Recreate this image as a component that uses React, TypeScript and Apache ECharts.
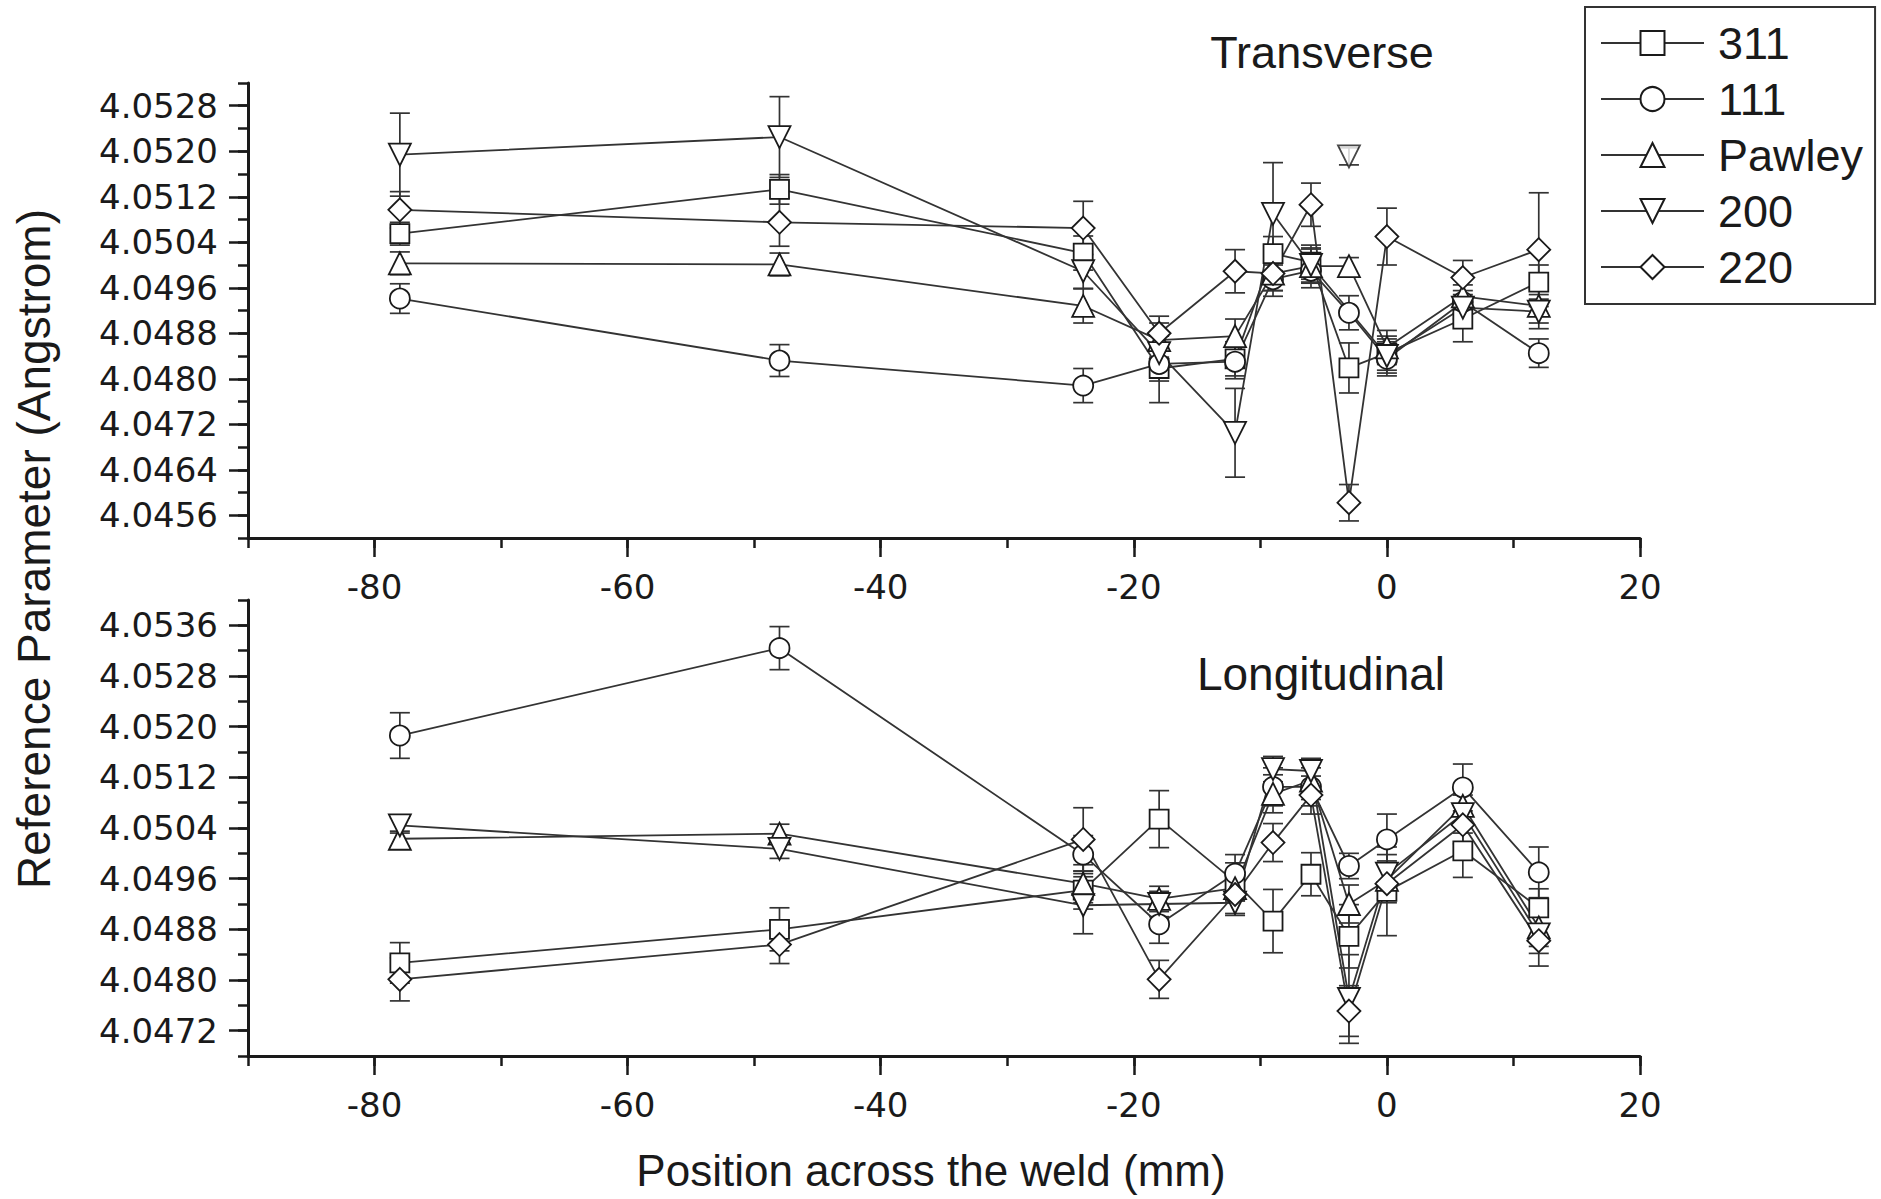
import React, { useEffect, useRef } from "react";
import * as echarts from "echarts";

// Positions across the weld (mm)
const positions = [-78, -48, -24, -18, -12, -9, -6, -3, 0, 6, 12];
const seriesNames = ["311", "111", "Pawley", "200", "220"];

// Transverse panel values (Angstrom)
const trans311 = [4.05055, 4.05133, 4.05021, 4.04818, 4.04835, 4.0502, 4.05005, 4.04819, 4.04845, 4.04905, 4.0497];
const trans111 = [4.04941, 4.04832, 4.04788, 4.04826, 4.0483, 4.04975, 4.0499, 4.04916, 4.04835, 4.04935, 4.04845];
const transPawley = [4.05003, 4.05001, 4.04928, 4.04868, 4.04875, 4.04985, 4.04998, 4.04998, 4.04855, 4.04945, 4.04928];
const trans200 = [4.05194, 4.05225, 4.04989, 4.04845, 4.04705, 4.0509, 4.05, null, 4.0484, 4.04925, 4.04918];
const trans220 = [4.05097, 4.05075, 4.05065, 4.0488, 4.04989, 4.04985, 4.05106, 4.04582, 4.0505, 4.04978, 4.05027];
// isolated 200 point (not joined by the line)
const trans200LoneX = [-3];
const trans200LoneY = [4.05191];
const trans200LoneErr = [0.00015];

// Transverse error bars
const transErr311 = [0.0002, 0.00026, 0.0003, 0.0006, 0.0003, 0.0003, 0.0003, 0.00044, 0.0003, 0.0004, 0.0003];
const transErr111 = [0.00026, 0.00028, 0.0003, 0.0003, 0.0003, 0.0003, 0.0003, 0.0003, 0.0003, 0.0003, 0.00025];
const transErrPawley = [0.0002, 0.0002, 0.0003, 0.0003, 0.0003, 0.0003, 0.0003, 0.00015, 0.0003, 0.0003, 0.0003];
const transErr200 = [0.00073, 0.00071, 0.0003, 0.0003, 0.00078, 0.0009, 0.0003, null, 0.0003, 0.0003, 0.0003];
const transErr220 = [0.00032, 0.00042, 0.00047, 0.0003, 0.00038, 0.0003, 0.00038, 0.00032, 0.0005, 0.0003, 0.001];

// Longitudinal panel values (Angstrom)
const long311 = [4.04827, 4.0488, 4.04942, 4.05054, 4.04955, 4.04893, 4.04967, 4.04869, 4.0494, 4.05004, 4.04914];
const long111 = [4.05186, 4.05324, 4.04998, 4.04888, 4.04968, 4.05105, 4.05105, 4.0498, 4.05022, 4.05104, 4.0497];
const longPawley = [4.05023, 4.05031, 4.04952, 4.04928, 4.04945, 4.05094, 4.05115, 4.0492, 4.04958, 4.05075, 4.04883];
const long200 = [4.05044, 4.05007, 4.04918, 4.0492, 4.04922, 4.05133, 4.0513, 4.0477, 4.04968, 4.05062, 4.04872];
const long220 = [4.04801, 4.04856, 4.05022, 4.04801, 4.04935, 4.05017, 4.05092, 4.04751, 4.04952, 4.05045, 4.04862];

// Longitudinal error bars
const longErr311 = [0.00032, 0.00034, 0.0003, 0.00045, 0.0003, 0.0005, 0.00034, 0.0005, 0.0007, 0.00042, 0.0003];
const longErr111 = [0.00036, 0.00034, 0.0003, 0.0003, 0.0003, 0.0003, 0.0003, 0.0002, 0.0004, 0.00037, 0.0004];
const longErrPawley = [0.00012, 0.00015, 0.0003, 0.0002, 0.0002, 0.0003, 0.0003, 0.0003, 0.0003, 0.0003, 0.0003];
const longErr200 = [0.00012, 0.00015, 0.00045, 0.0002, 0.0002, 0.0002, 0.0002, 0.0007, 0.0003, 0.0003, 0.0003];
const longErr220 = [0.00034, 0.0003, 0.0005, 0.0003, 0.0003, 0.0003, 0.0003, 0.0004, 0.0003, 0.0003, 0.0004];

// Axis ticks
const xMajorTicks = [-80, -60, -40, -20, 0, 20];
const transYTicks = [4.0456, 4.0464, 4.0472, 4.048, 4.0488, 4.0496, 4.0504, 4.0512, 4.052, 4.0528];
const longYTicks = [4.0472, 4.048, 4.0488, 4.0496, 4.0504, 4.0512, 4.052, 4.0528, 4.0536];

const transValues = [trans311, trans111, transPawley, trans200, trans220];
const transErrors = [transErr311, transErr111, transErrPawley, transErr200, transErr220];
const longValues = [long311, long111, longPawley, long200, long220];
const longErrors = [longErr311, longErr111, longErrPawley, longErr200, longErr220];

const symbolTypes = ["rect", "circle", "triangle", "triangle", "diamond"];
const symbolRotations = [0, 0, 0, 180, 0];
const symbolSizes = [19, 20, 22, 22, 23];

const INK = "#1a1a1a";
const LINE = "#333333";
const TICK_FONT = "DejaVu Sans";
const TEXT_FONT = "Liberation Sans, Arial, sans-serif";

function errorRender(params: any, api: any) {
  const x = api.value(0);
  const y = api.value(1);
  const e = api.value(2);
  const top = api.coord([x, y + e]);
  const bot = api.coord([x, y - e]);
  const hw = 10;
  const style = { stroke: LINE, lineWidth: 1.7, fill: null };
  return {
    type: "group",
    children: [
      { type: "line", shape: { x1: top[0], y1: top[1], x2: bot[0], y2: bot[1] }, style },
      { type: "line", shape: { x1: top[0] - hw, y1: top[1], x2: top[0] + hw, y2: top[1] }, style },
      { type: "line", shape: { x1: bot[0] - hw, y1: bot[1], x2: bot[0] + hw, y2: bot[1] }, style },
    ],
  };
}

function makeXAxes(grid: number) {
  return [
    {
      gridIndex: grid,
      type: "value",
      position: "bottom",
      min: -90,
      max: 20,
      interval: 10,
      axisLine: { show: true, onZero: false, lineStyle: { color: INK, width: 3 } },
      axisTick: { show: true, length: 19, customValues: xMajorTicks, lineStyle: { color: INK, width: 2.5 } },
      axisLabel: {
        customValues: xMajorTicks,
        margin: 32,
        fontSize: 34,
        fontFamily: TICK_FONT,
        color: INK,
      },
      splitLine: { show: false },
    },
    {
      gridIndex: grid,
      type: "value",
      position: "bottom",
      min: -90,
      max: 20,
      interval: 10,
      axisLine: { show: false, onZero: false },
      axisTick: { show: true, length: 10, lineStyle: { color: INK, width: 2.5 } },
      axisLabel: { show: false },
      splitLine: { show: false },
    },
  ];
}

function makeYAxes(grid: number, min: number, max: number, ticks: number[]) {
  return [
    {
      gridIndex: grid,
      type: "value",
      position: "left",
      min,
      max,
      interval: 0.0004,
      axisLine: { show: true, onZero: false, lineStyle: { color: INK, width: 3 } },
      axisTick: { show: true, length: 19, customValues: ticks, lineStyle: { color: INK, width: 2.5 } },
      axisLabel: {
        customValues: ticks,
        formatter: (v: number) => v.toFixed(4),
        margin: 30,
        fontSize: 34,
        fontFamily: TICK_FONT,
        color: INK,
      },
      splitLine: { show: false },
    },
    {
      gridIndex: grid,
      type: "value",
      position: "left",
      min,
      max,
      interval: 0.0004,
      axisLine: { show: false, onZero: false },
      axisTick: { show: true, length: 10, lineStyle: { color: INK, width: 2.5 } },
      axisLabel: { show: false },
      splitLine: { show: false },
    },
  ];
}

function panelSeries(values: (number | null)[][], errors: (number | null)[][], xIdx: number, yIdx: number) {
  const out: any[] = [];
  values.forEach((vals, s) => {
    const errs = errors[s];
    const errData = positions
      .map((x, i) => (vals[i] == null || errs[i] == null ? null : [x, vals[i], errs[i]]))
      .filter((d) => d != null);
    out.push({
      type: "custom",
      name: seriesNames[s] + " error",
      xAxisIndex: xIdx,
      yAxisIndex: yIdx,
      renderItem: errorRender,
      data: errData,
      z: 1,
      silent: true,
      tooltip: { show: false },
    });
  });
  values.forEach((vals, s) => {
    out.push({
      type: "line",
      name: seriesNames[s],
      xAxisIndex: xIdx,
      yAxisIndex: yIdx,
      data: positions.map((x, i) => [x, vals[i] == null ? "-" : vals[i]]),
      connectNulls: true,
      symbol: symbolTypes[s],
      symbolSize: symbolSizes[s],
      symbolRotate: symbolRotations[s],
      showAllSymbol: true,
      lineStyle: { color: LINE, width: 1.8 },
      itemStyle: { color: "#ffffff", borderColor: INK, borderWidth: 1.8 },
      emphasis: { disabled: true },
      z: 3,
    });
  });
  return out;
}

export default function App() {
  const ref = useRef<HTMLDivElement>(null);

  useEffect(() => {
    if (!ref.current) return;
    const chart = echarts.init(ref.current, null, { renderer: "svg" });

    const series: any[] = [
      ...panelSeries(transValues, transErrors, 0, 0),
      {
        type: "custom",
        name: "200 lone error",
        xAxisIndex: 0,
        yAxisIndex: 0,
        renderItem: errorRender,
        data: trans200LoneX.map((x, i) => [x, trans200LoneY[i], trans200LoneErr[i]]),
        z: 1,
        silent: true,
      },
      {
        type: "scatter",
        name: "200",
        xAxisIndex: 0,
        yAxisIndex: 0,
        data: trans200LoneX.map((x, i) => [x, trans200LoneY[i]]),
        symbol: "triangle",
        symbolRotate: 180,
        symbolSize: 22,
        itemStyle: { color: "#ffffff", borderColor: INK, borderWidth: 1.8 },
        emphasis: { disabled: true },
        z: 3,
      },
      ...panelSeries(longValues, longErrors, 2, 2),
    ];

    chart.setOption({
      animation: false,
      backgroundColor: "#ffffff",
      grid: [
        { left: 248, top: 83, width: 1392, height: 455, containLabel: false },
        { left: 248, top: 600, width: 1392, height: 456, containLabel: false },
      ],
      xAxis: [...makeXAxes(0), ...makeXAxes(1)],
      yAxis: [
        ...makeYAxes(0, 4.0452, 4.0532, transYTicks),
        ...makeYAxes(1, 4.0468, 4.054, longYTicks),
      ],
      legend: {
        data: seriesNames,
        orient: "vertical",
        left: 1585,
        top: 7,
        padding: [11, 12, 12, 15],
        itemWidth: 103,
        itemHeight: 30,
        itemGap: 6,
        borderColor: "#333",
        borderWidth: 2,
        backgroundColor: "#ffffff",
        selectedMode: false,
        textStyle: {
          fontSize: 45,
          lineHeight: 50,
          fontFamily: TEXT_FONT,
          color: INK,
          padding: [0, 0, 0, 9],
        },
      },
      graphic: [
        {
          type: "text",
          x: 1322,
          y: 52,
          style: { text: "Transverse", font: `45px ${TEXT_FONT}`, fill: INK, align: "center", verticalAlign: "middle" },
        },
        {
          type: "text",
          x: 1321,
          y: 674,
          style: { text: "Longitudinal", font: `46px ${TEXT_FONT}`, fill: INK, align: "center", verticalAlign: "middle" },
        },
        {
          type: "text",
          x: 931,
          y: 1170,
          style: {
            text: "Position across the weld (mm)",
            font: `44px ${TEXT_FONT}`,
            fill: INK,
            align: "center",
            verticalAlign: "middle",
          },
        },
        {
          type: "text",
          x: 34,
          y: 549,
          rotation: Math.PI / 2,
          style: {
            text: "Reference Parameter (Angstrom)",
            font: `46px ${TEXT_FONT}`,
            fill: INK,
            align: "center",
            verticalAlign: "middle",
          },
        },
      ],
      series,
    });

    return () => chart.dispose();
  }, []);

  return (
    <div
      ref={ref}
      style={{ position: "fixed", left: 0, top: 0, width: 1881, height: 1199, background: "#fff" }}
    />
  );
}
